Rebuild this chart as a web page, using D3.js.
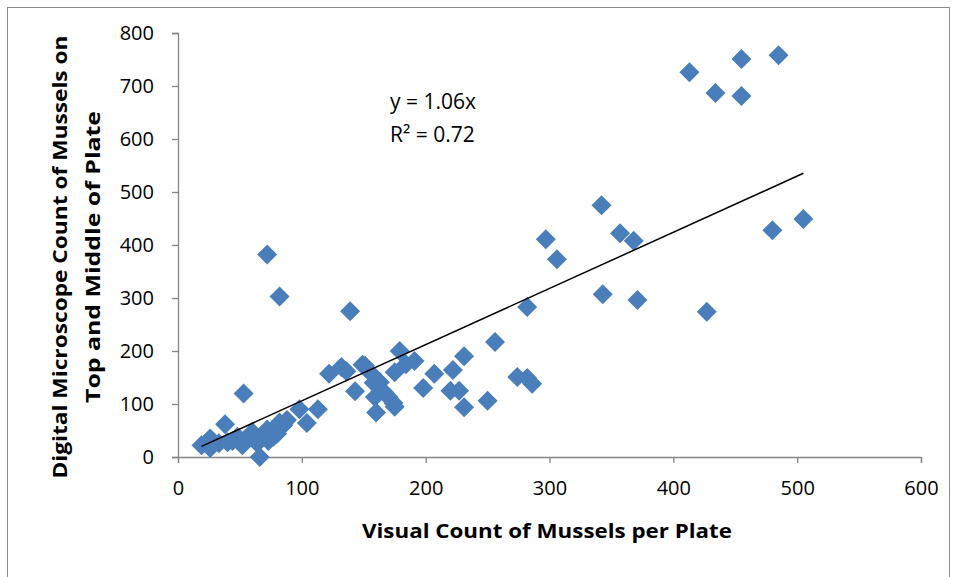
<!DOCTYPE html>
<html>
<head>
<meta charset="utf-8">
<script src="https://cdn.jsdelivr.net/npm/d3@7"></script>
<style>
  body { margin: 0; background: #fff; }
  text { font-family: "Open Sans", "Liberation Sans", sans-serif; }
</style>
</head>
<body>
<div id="chart"></div>
<script>
// datos: recuento visual (x) frente a recuento con microscopio (y)
const visualCount = [
    19, 26, 26, 33, 38, 40, 44, 48, 52, 56, 60, 64, 66, 69, 72, 73, 77, 80, 82, 85, 88,
    53, 72, 82, 98, 104, 113,
    122, 132, 136, 143, 149, 151, 157, 158, 159, 160, 163, 166, 170, 174, 175, 175, 179, 184, 191, 139,
    198, 207, 220, 222, 227, 231, 231,
    250, 256, 274, 282, 286, 282,
    297, 306, 342, 343, 357, 368, 371,
    413, 434, 455, 455, 485, 427, 480, 505
];
const microCount = [
    22, 17, 35, 26, 62, 28, 30, 38, 22, 36, 47, 26, 0, 42, 52, 30, 38, 44, 65, 60, 70,
    120, 382, 303, 90, 64, 90,
    157, 170, 162, 124, 174, 172, 155, 140, 113, 84, 141, 123, 113, 102, 95, 160, 200, 175, 181, 275,
    130, 157, 125, 164, 125, 94, 190,
    106, 217, 151, 149, 138, 283,
    411, 373, 475, 307, 422, 408, 296,
    726, 687, 681, 751, 758, 274, 428, 449
];
const xTicks = [0, 100, 200, 300, 400, 500, 600];
const yTicks = [0, 100, 200, 300, 400, 500, 600, 700, 800];
const slope = 1.06;     // línea de tendencia por el origen
const rSquared = 0.72;

class Scatter {
    constructor(selector) {
        this.width = 957;
        this.height = 577;
        this.margin = { top: 33, right: 36, bottom: 120, left: 178 };

        this.svg = d3.select(selector).append("svg")
            .attr("width", this.width)
            .attr("height", this.height);

        // marco gris alrededor
        this.svg.append("rect")
            .attr("x", 7.5).attr("y", 7.5)
            .attr("width", 942).attr("height", 600)
            .attr("fill", "none")
            .attr("stroke", "#8c8c8c");

        this.x = d3.scaleLinear([0, 600], [this.margin.left, this.width - this.margin.right]);
        this.y = d3.scaleLinear([0, 800], [this.height - this.margin.bottom, this.margin.top]);

        this.data = visualCount.map((v, i) => ({ x: v, y: microCount[i] }));
        this.update();
    }

    update() {
        let x = this.x, y = this.y;

        // ejes
        let gx = this.svg.append("g")
            .attr("transform", "translate(0," + y(0) + ")")
            .call(d3.axisBottom(x).tickValues(xTicks).tickSize(6).tickPadding(18));
        let gy = this.svg.append("g")
            .attr("transform", "translate(" + x(0) + ",0)")
            .call(d3.axisLeft(y).tickValues(yTicks).tickSize(6).tickPadding(18));
        [gx, gy].forEach(g => {
            g.select(".domain").attr("stroke", "#868686").attr("stroke-width", 1.3);
            g.selectAll(".tick line").attr("stroke", "#868686").attr("stroke-width", 1.3);
            g.selectAll(".tick text")
                .attr("fill", "#000")
                .style("font-size", "20px");
        });

        // puntos en forma de rombo
        let diamond = d3.symbol().type(d3.symbolSquare).size(200);
        this.svg.append("g")
            .selectAll("path")
            .data(this.data)
            .enter().append("path")
            .attr("d", diamond)
            .attr("transform", d => "translate(" + x(d.x) + "," + y(d.y) + ") rotate(45)")
            .attr("fill", "#4a7ebb");

        // línea de tendencia y = slope * x
        let [x0, x1] = d3.extent(this.data, d => d.x);
        this.svg.append("line")
            .attr("x1", x(x0)).attr("y1", y(slope * x0))
            .attr("x2", x(x1)).attr("y2", y(slope * x1))
            .attr("stroke", "#000")
            .attr("stroke-width", 1.5);

        // ecuación
        this.svg.append("text")
            .attr("x", 390).attr("y", 109)
            .style("font-size", "21px")
            .text("y = " + slope + "x");
        this.svg.append("text")
            .attr("x", 390).attr("y", 142)
            .style("font-size", "21px")
            .text("R² = " + rSquared);

        // títulos
        this.svg.append("text")
            .attr("x", 547).attr("y", 538)
            .attr("text-anchor", "middle")
            .attr("textLength", 370)
            .attr("lengthAdjust", "spacingAndGlyphs")
            .style("font-size", "20px")
            .style("font-weight", "bold")
            .text("Visual Count of Mussels per Plate");
        let yTitle = this.svg.append("g")
            .attr("transform", "translate(0,257) rotate(-90)");
        yTitle.append("text")
            .attr("x", 0).attr("y", 67)
            .attr("text-anchor", "middle")
            .attr("textLength", 443)
            .attr("lengthAdjust", "spacingAndGlyphs")
            .style("font-size", "20px")
            .style("font-weight", "bold")
            .text("Digital Microscope Count of Mussels on");
        yTitle.append("text")
            .attr("x", 0).attr("y", 100)
            .attr("text-anchor", "middle")
            .attr("textLength", 292)
            .attr("lengthAdjust", "spacingAndGlyphs")
            .style("font-size", "20px")
            .style("font-weight", "bold")
            .text("Top and Middle of Plate");
    }
}

new Scatter("#chart");
</script>
</body>
</html>
